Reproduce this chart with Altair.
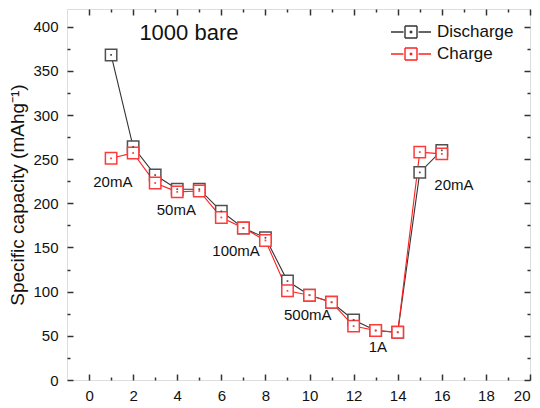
import altair as alt
import pandas as pd

cycles = list(range(1, 17))
discharge = [368, 264, 232, 216, 216, 191, 172, 161, 112, 96, 88, 68, 56, 54, 235, 260]
charge = [251, 257, 223, 213, 214, 184, 172, 158, 101, 96, 88, 61, 56, 54, 258, 256]
series_names = ["Discharge", "Charge"]
line_colors = ["#333333", "#ff2020"]
marker_colors = ["#505050", "#ff3a3a"]

rate_labels = ["20mA", "50mA", "100mA", "500mA", "1A", "20mA"]
rate_x = [1.08, 3.96, 6.67, 9.92, 13.1, 16.55]
rate_y = [224, 193, 146, 74, 37, 221]

x_major = list(range(0, 21, 2))
x_minor = list(range(1, 20, 2))
y_major = list(range(0, 401, 50))
y_minor = list(range(25, 420, 50))

df = pd.DataFrame({
    "cycle": cycles + cycles,
    "capacity": discharge + charge,
    "series": ["Discharge"] * len(cycles) + ["Charge"] * len(cycles),
})
ann = pd.DataFrame({"cycle": rate_x, "capacity": rate_y, "label": rate_labels})
ttl = pd.DataFrame({"cycle": [4.53], "capacity": [393], "label": ["1000 bare"]})

FONT = "Liberation Sans"
TC = "#333333"

xs = alt.Scale(domain=[-1, 20], nice=False, zero=False)
ys = alt.Scale(domain=[0, 420], nice=False)


def inward(n):
    return alt.ExprRef(expr=str(-n))


def xaxis(orient, values, size, labels):
    kw = dict(orient=orient, values=values, tickSize=inward(size), domain=False,
              grid=False, labels=labels, title=None, tickColor=TC, tickWidth=1.5)
    if labels:
        kw.update(labelFontSize=15, labelFont=FONT, labelColor="#111", labelPadding=14)
    return alt.Axis(**kw)


def yaxis(orient, values, size, labels, title=None):
    kw = dict(orient=orient, values=values, tickSize=inward(size), domain=False,
              grid=False, labels=labels, tickColor=TC, tickWidth=1.5)
    if labels:
        kw.update(labelFontSize=15, labelFont=FONT, labelColor="#111", labelPadding=15)
    if title:
        kw.update(title=title, titleFontSize=19, titleFont=FONT, titleFontWeight="normal",
                  titleColor="#111", titlePadding=5)
    else:
        kw.update(title=None)
    return alt.Axis(**kw)


line_scale = alt.Scale(domain=series_names, range=line_colors)
marker_scale = alt.Scale(domain=series_names, range=marker_colors)
# line - open square - line, drawn as separate segments so no area gets filled
legend_path = ("M-2,0L-0.75,0 M0.75,0L2,0 "
               "M-0.6,-0.6L0.6,-0.6 M0.6,-0.6L0.6,0.6 M0.6,0.6L-0.6,0.6 M-0.6,0.6L-0.6,-0.6 "
               "M-0.06,-0.06L0.06,-0.06L0.06,0.06L-0.06,0.06Z")

lines = alt.Chart(df).mark_line(strokeWidth=1.1).encode(
    x=alt.X("cycle:Q", scale=xs, axis=xaxis("bottom", x_major, 6, True)),
    y=alt.Y("capacity:Q", scale=ys,
            axis=yaxis("left", y_major, 6, True, "Specific capacity (mAhg⁻¹)")),
    color=alt.Color("series:N", scale=line_scale, sort=series_names,
                    legend=alt.Legend(title=None, orient="none", legendX=333, legendY=12,
                                      symbolType=legend_path, symbolSize=400,
                                      symbolStrokeWidth=1.4,
                                      labelFontSize=17, labelFont=FONT, labelColor="#111",
                                      labelOffset=15, rowPadding=2, padding=0)),
    detail="series:N",
)

squares = alt.Chart(df).mark_point(shape="square", size=130, strokeWidth=1.5, filled=False,
                                   fill="white", fillOpacity=1, opacity=1).encode(
    x=alt.X("cycle:Q", scale=xs, axis=xaxis("bottom", x_minor, 3, False)),
    y=alt.Y("capacity:Q", scale=ys, axis=yaxis("left", y_minor, 3, False)),
    stroke=alt.Stroke("series:N", scale=marker_scale, legend=None),
)

dots = alt.Chart(df).mark_point(shape="square", size=3, filled=True, opacity=1).encode(
    x=alt.X("cycle:Q", scale=xs, axis=xaxis("top", x_major, 6, False)),
    y=alt.Y("capacity:Q", scale=ys, axis=yaxis("right", y_major, 6, False)),
    fill=alt.Fill("series:N", scale=marker_scale, legend=None),
)

notes = alt.Chart(ann).mark_text(fontSize=15, font=FONT, color="#111",
                                 align="center", baseline="middle").encode(
    x=alt.X("cycle:Q", scale=xs, axis=xaxis("top", x_minor, 3, False)),
    y=alt.Y("capacity:Q", scale=ys, axis=yaxis("right", y_minor, 3, False)),
    text="label:N",
)

title_txt = alt.Chart(ttl).mark_text(fontSize=22, font=FONT, color="#111",
                                     align="center", baseline="middle").encode(
    x=alt.X("cycle:Q", scale=xs, axis=None),
    y=alt.Y("capacity:Q", scale=ys, axis=None),
    text="label:N",
)

chart = alt.layer(lines, squares, dots, notes, title_txt).resolve_axis(
    x="independent", y="independent"
).properties(
    width=463, height=371,
    padding={"left": 59, "top": 1, "right": 2, "bottom": 24},
    autosize=alt.AutoSizeParams(type="none"),
).configure_view(stroke=TC, strokeWidth=1.5).configure(background="white")

chart.save("out.html", embed_options={"renderer": "svg", "actions": False})
